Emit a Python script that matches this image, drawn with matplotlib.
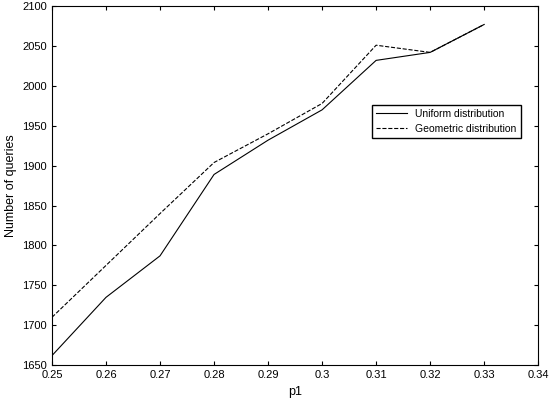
import matplotlib
matplotlib.use("Agg")
import matplotlib.pyplot as plt

plt.rcParams["font.family"] = ["Liberation Sans", "DejaVu Sans"]

p1 = [0.25, 0.26, 0.27, 0.28, 0.29, 0.30, 0.31, 0.32, 0.33]
uniform = [1662, 1735, 1787, 1889, 1932, 1970, 2032, 2042, 2077]
geometric = [1710, 1775, 1840, 1904, 1940, 1978, 2051, 2042, 2077]

fig = plt.figure(figsize=(5.5, 4.08), dpi=100)
ax = fig.add_axes([0.0945, 0.105, 0.884, 0.88])
ax.plot(p1, uniform, "k-", linewidth=0.8, label="Uniform distribution")
ax.plot(p1, geometric, "k--", linewidth=0.8, label="Geometric distribution")
ax.set_xlim(0.25, 0.34)
ax.set_ylim(1650, 2100)
ax.set_xticks([0.25, 0.26, 0.27, 0.28, 0.29, 0.30, 0.31, 0.32, 0.33, 0.34])
ax.set_xticklabels(["0.25", "0.26", "0.27", "0.28", "0.29", "0.3", "0.31", "0.32", "0.33", "0.34"])
ax.set_yticks(range(1650, 2101, 50))
ax.tick_params(direction="in", labelsize=8, top=True, right=True, length=3)
ax.set_xlabel("p1", fontsize=9)
ax.set_ylabel("Number of queries", fontsize=9)
ax.legend(loc="upper right", bbox_to_anchor=(0.975, 0.74), fontsize=7.5,
          fancybox=False, edgecolor="black", framealpha=1, handlelength=3)
fig.savefig("out.png", dpi=100)
